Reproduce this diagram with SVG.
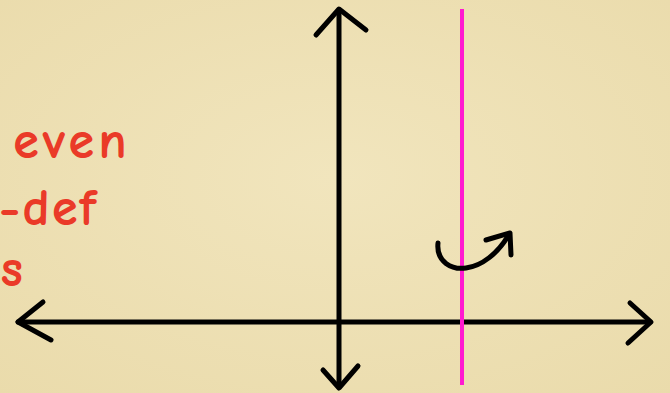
<svg xmlns="http://www.w3.org/2000/svg" width="670" height="393" viewBox="0 0 670 393">
<defs>
<radialGradient id="bg" cx="50%" cy="45%" r="75%">
<stop offset="0" stop-color="#f1e5bd"/>
<stop offset="1" stop-color="#eadbab"/>
</radialGradient>
<style>
.ax{fill:none;stroke:#000;stroke-width:5;stroke-linecap:round;stroke-linejoin:round}
.lbl{fill:#ea3a28;stroke:#ea3a28;stroke-width:2.2;stroke-linejoin:round;font-family:"Comic Neue","Liberation Sans",sans-serif;font-size:48px}
</style>
</defs>
<rect width="670" height="393" fill="url(#bg)"/>
<g id="labels">
<text class="lbl" x="14" y="157" letter-spacing="6">even</text>
<text class="lbl" x="0" y="224" letter-spacing="4">-def</text>
<text class="lbl" x="2" y="285">s</text>
</g>
<g id="connectors">
<g id="y-axis">
<path class="ax" d="M339 10 L339 386"/>
<path class="ax" d="M316 35 L339 9 L366 30"/>
<path class="ax" d="M323 370 L339 388 L358 366"/>
</g>
<g id="x-axis">
<path class="ax" d="M18 322 L650 322"/>
<path class="ax" d="M43 302 L18 322 L51 340"/>
<path class="ax" d="M630 303 L651 322 L628 343"/>
</g>
<path id="mirror" d="M462 9 L462 385" fill="none" stroke="#ff1ad0" stroke-width="4"/>
<g id="rotation">
<path class="ax" d="M438 243 C436 262 452 270 466 268 C482 266 498 253 508 236"/>
<path class="ax" d="M486 240 L510 233 L511 255"/>
</g>
</g>
</svg>
